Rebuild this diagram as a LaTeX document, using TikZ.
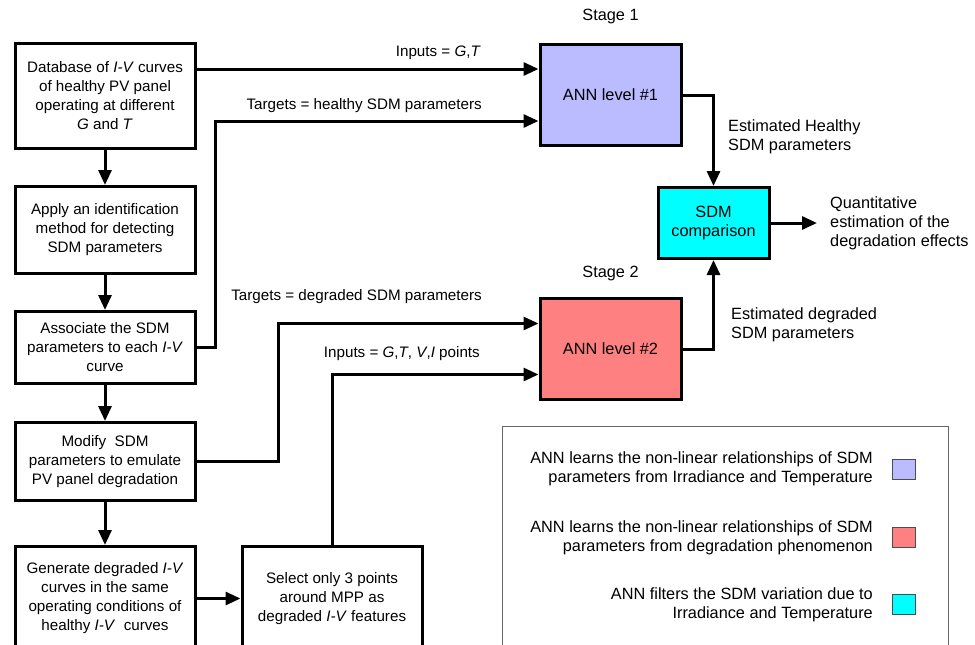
\documentclass[tikz,border=0pt]{standalone}
\usepackage{fontspec}
\setmainfont{Liberation Sans}
\usetikzlibrary{arrows.meta, positioning}

\definecolor{stageone}{RGB}{187,187,255}
\definecolor{stagetwo}{RGB}{255,128,128}
\definecolor{compare}{RGB}{0,255,255}

\begin{document}
\begin{tikzpicture}[
    x=1pt, y=-1pt,
    node distance=35pt,
    font=\fontsize{15.2}{19}\selectfont,
    big/.style={font=\fontsize{16.3}{19}\selectfont},
    box/.style={draw, line width=3pt, align=center, minimum width=180pt, inner sep=2pt},
    ann/.style={draw, line width=3pt, big, minimum width=141pt, minimum height=101pt},
    lbl/.style={inner sep=0pt},
    swatch/.style={draw=black!70, line width=0.8pt, minimum width=23pt, minimum height=20pt, inner sep=0pt},
    flow/.style={draw, line width=3pt, -{Triangle[length=15pt,width=13pt]}},
    every edge/.style={flow}
]
\clip (0,0) rectangle (975,645);

% left column
\node (db) [box, minimum height=105pt] at (105,96)
    {Database of \textit{I-V} curves\\of healthy PV panel\\operating at different\\\textit{G} and \textit{T}};
\node (apply) [box, minimum height=87pt, below=of db]
    {Apply an identification\\method for detecting\\SDM parameters};
\node (assoc) [box, minimum height=72pt, below=of apply]
    {Associate the SDM\\parameters to each \textit{I-V}\\curve};
\node (modify) [box, minimum height=78pt, below=36pt of assoc]
    {Modify~ SDM\\parameters to emulate\\PV panel degradation};
\node (gen) [box, minimum height=104pt, below=43pt of modify]
    {Generate degraded \textit{I-V}\\curves in the same\\operating conditions of\\healthy \textit{I-V}~ curves};
\node (select) [box, minimum height=104pt, right=44pt of gen]
    {Select only 3 points\\around MPP as\\degraded \textit{I-V} features};

% networks
\node (ann1) [ann, fill=stageone] at (610.5,95) {ANN level \#1};
\node (ann2) [ann, fill=stagetwo, below=150pt of ann1] {ANN level \#2};
\node (stage1) [lbl, big, above=19pt of ann1] {Stage 1};
\node (stage2) [lbl, big, above=16pt of ann2] {Stage 2};
\node (sdm) [draw, line width=3pt, big, fill=compare, minimum width=111pt, minimum height=71pt,
    align=center, inner sep=2pt] at (713.5,223) {SDM\\comparison};
\node (quant) [lbl, big, anchor=west, align=left] at (830,223)
    {Quantitative\\estimation of the\\degradation effects};
\coordinate (qend) at (817,223);

% labels on the connectors
\node (in1) [lbl, anchor=east] at (481,53) {Inputs = \textit{G},\textit{T}};
\node (tg1) [lbl, anchor=east] at (482,106) {Targets = healthy SDM parameters};
\node (tg2) [lbl, anchor=east] at (482,297) {Targets = degraded SDM parameters};
\node (in2) [lbl, anchor=east] at (480,354) {Inputs = \textit{G},\textit{T}, \textit{V},\textit{I} points};
\node (est1) [lbl, big, anchor=west, align=left] at (728,136.5) {Estimated Healthy\\SDM parameters};
\node (est2) [lbl, big, anchor=west, align=left] at (731,325) {Estimated degraded\\SDM parameters};

% connectors
\draw (db) edge (apply);
\draw (apply) edge (assoc);
\draw (assoc) edge (modify);
\draw (modify) edge (gen);
\draw (gen) edge (select);

\draw[flow] (db.east |- 0,69) -- ([yshift=26pt]ann1.west);
\draw[flow] (assoc.east) -- ++(19,0) |- ([yshift=-26pt]ann1.west);
\draw[flow] (modify.east) -- ++(82,0) |- ([yshift=25.5pt]ann2.west);
\draw[flow] (select.north) |- ([yshift=-25.5pt]ann2.west);
\draw[flow] (ann1.east) -| (sdm.north);
\draw[flow] (ann2.east) -| (sdm.south);
\draw (sdm) edge (qend);

% legend
\draw[black!60, line width=1pt] (502,426) rectangle (948,700);
\node (leg1) [lbl, big, anchor=east, align=right] at (873,469)
    {ANN learns the non-linear relationships of SDM\\parameters from Irradiance and Temperature};
\node (leg2) [lbl, big, anchor=east, align=right] at (873,537.5)
    {ANN learns the non-linear relationships of SDM\\parameters from degradation phenomenon};
\node (leg3) [lbl, big, anchor=east, align=right] at (873,605)
    {ANN filters the SDM variation due to\\Irradiance and Temperature};
\node (sw1) [swatch, fill=stageone] at (903.5,469) {};
\node (sw2) [swatch, fill=stagetwo] at (903.5,537) {};
\node (sw3) [swatch, fill=compare] at (903.5,604.5) {};

\end{tikzpicture}
\end{document}
